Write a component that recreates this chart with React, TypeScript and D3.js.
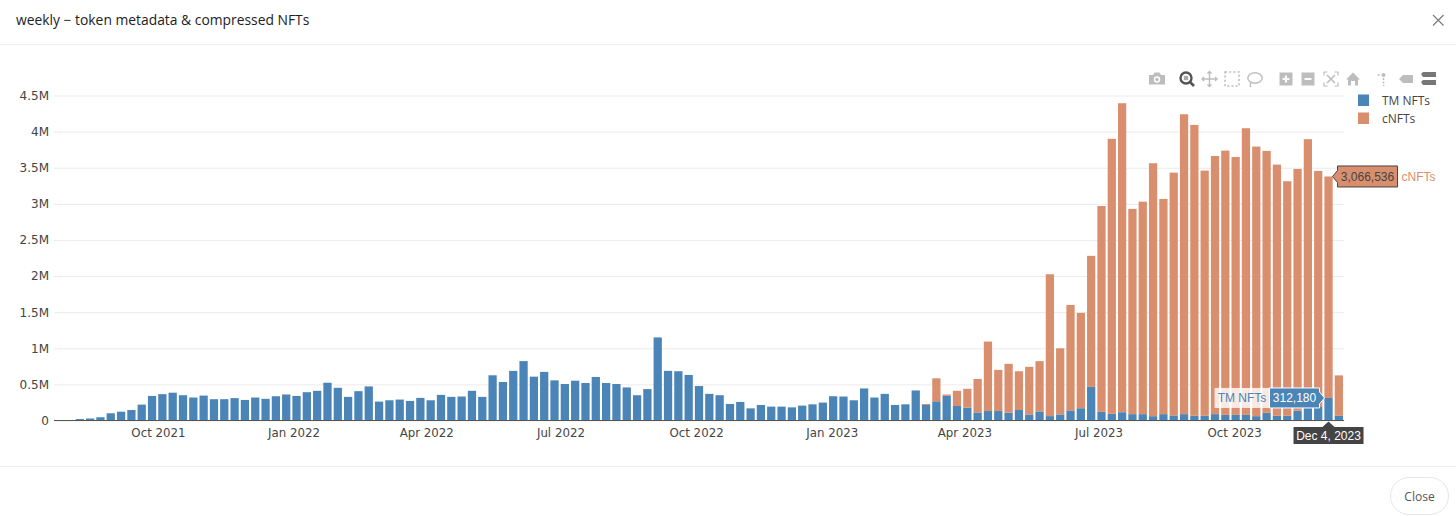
import { useEffect, useRef } from "react";
import { axisBottom, axisLeft, scaleLinear, scaleUtc, select, stack, utcFormat, utcMonday } from "d3";

const firstWeek = new Date(Date.UTC(2021, 6, 26));
const lastWeek = new Date(Date.UTC(2023, 11, 11));

const tmNfts = [
  5000, 5000, 20000, 28000, 45000, 100000, 122000, 145000, 220000, 340000,
  365000, 385000, 350000, 318000, 345000, 295000, 295000, 310000, 285000, 318000,
  300000, 336000, 360000, 340000, 392000, 411000, 523000, 453000, 327000, 406000,
  472000, 262000, 280000, 290000, 271000, 313000, 280000, 355000, 327000, 332000,
  411000, 327000, 626000, 533000, 687000, 822000, 607000, 673000, 556000, 505000,
  551000, 519000, 603000, 519000, 505000, 458000, 350000, 435000, 1150000, 687000,
  682000, 631000, 477000, 369000, 350000, 229000, 257000, 168000, 215000, 192000,
  192000, 182000, 206000, 224000, 248000, 336000, 332000, 280000, 444000, 318000,
  369000, 215000, 224000, 416000, 215000, 266000, 341000, 201000, 178000, 112000,
  131000, 131000, 107000, 145000, 84000, 126000, 61000, 84000, 140000, 170000,
  465000, 120000, 92000, 115000, 88000, 88000, 60000, 88000, 70000, 88000,
  65000, 65000, 88000, 78000, 78000, 78000, 60000, 106000, 65000, 65000,
  135000, 173000, 187000, 312180, 65000,
];

const cNfts = [
  0, 0, 0, 0, 0, 0, 0, 0, 0, 0,
  0, 0, 0, 0, 0, 0, 0, 0, 0, 0,
  0, 0, 0, 0, 0, 0, 0, 0, 0, 0,
  0, 0, 0, 0, 0, 0, 0, 0, 0, 0,
  0, 0, 0, 0, 0, 0, 0, 0, 0, 0,
  0, 0, 0, 0, 0, 0, 0, 0, 0, 0,
  0, 0, 0, 0, 0, 0, 0, 0, 0, 0,
  0, 0, 0, 0, 0, 0, 0, 0, 0, 0,
  0, 0, 0, 0, 14000, 318000, 19000, 210000, 261000, 463000,
  962000, 570000, 678000, 537000, 659000, 696000, 1964000, 916000, 1460000, 1320000,
  1815000, 2850000, 3808000, 4278000, 2842000, 2942000, 3502000, 2979000, 3362000, 4152000,
  4027000, 3395000, 3575000, 3659000, 3570000, 3969000, 3733000, 3627000, 3478000, 3248000,
  3348000, 3722000, 3268000, 3066536, 560000,
];

const seriesNames = ["TM NFTs", "cNFTs"];
const seriesColors = ["#4b84b6", "#d98f6e"];

const yTicks = [0, 500000, 1000000, 1500000, 2000000, 2500000, 3000000, 3500000, 4000000, 4500000];
const yTickLabels = ["0", "0.5M", "1M", "1.5M", "2M", "2.5M", "3M", "3.5M", "4M", "4.5M"];
const xTicks = [
  new Date(Date.UTC(2021, 9, 1)),
  new Date(Date.UTC(2022, 0, 1)),
  new Date(Date.UTC(2022, 3, 1)),
  new Date(Date.UTC(2022, 6, 1)),
  new Date(Date.UTC(2022, 9, 1)),
  new Date(Date.UTC(2023, 0, 1)),
  new Date(Date.UTC(2023, 3, 1)),
  new Date(Date.UTC(2023, 6, 1)),
  new Date(Date.UTC(2023, 9, 1)),
];

const hoverIndex = 123;
const hoverDate = "Dec 4, 2023";

const width = 1456;
const height = 516;
const plot = { left: 54, right: 1344, top: 95.5, bottom: 420.5 };
const halfWeek = 3.5 * 24 * 3600 * 1000;
const tickFont = "'DejaVu Sans', Verdana, sans-serif";
const hoverFont = "'Liberation Sans', Arial, sans-serif";
const uiFont = "'Open Sans', sans-serif";
const iconGrey = "#bdbdbd";

function Toolbar() {
  return (
    <g fill={iconGrey} stroke="none">
      {/* camera */}
      <g transform="translate(1157,79)">
        <path d="M-8,-4 h4 l1.5,-2.5 h5 l1.5,2.5 h4 v9.5 h-16 z" />
        <circle r="3.2" cy="0.5" fill="#fff" />
        <circle r="1.8" cy="0.5" />
      </g>
      {/* zoom, the active one */}
      <g transform="translate(1187,79)" stroke="#555" fill="none">
        <circle r="5.5" cx="-1" cy="-1" strokeWidth="2.4" />
        <rect x="-3.2" y="-3.2" width="4.4" height="4.4" fill="#aaa" stroke="none" />
        <path d="M3,3 L7,7" strokeWidth="2.6" />
      </g>
      {/* pan */}
      <g transform="translate(1209.5,79)" stroke={iconGrey} fill="none" strokeWidth="1.4">
        <path d="M-7.5,0 H7.5 M0,-7.5 V7.5 M-2,-5.5 L0,-7.5 L2,-5.5 M-2,5.5 L0,7.5 L2,5.5 M-5.5,-2 L-7.5,0 L-5.5,2 M5.5,-2 L7.5,0 L5.5,2" />
      </g>
      {/* box select */}
      <rect x="1225" y="72" width="14" height="14" fill="none" stroke={iconGrey} strokeWidth="1.6" strokeDasharray="2 2.2" />
      {/* lasso */}
      <g transform="translate(1255,78)" stroke={iconGrey} fill="none" strokeWidth="1.4">
        <ellipse rx="7.2" ry="5.2" />
        <path d="M-4,4 q-1.5,3 0,5" />
      </g>
      {/* zoom in and out */}
      <rect x="1279.5" y="72.5" width="13" height="13" />
      <path d="M1286,75.5 v7 M1282.5,79 h7" stroke="#fff" strokeWidth="2" />
      <rect x="1301.5" y="72.5" width="13" height="13" />
      <path d="M1304.5,79 h7" stroke="#fff" strokeWidth="2" />
      {/* autoscale */}
      <g transform="translate(1331,79)" stroke={iconGrey} fill="none" strokeWidth="1.2">
        <path d="M-7,-3.5 V-7 H-3.5 M3.5,-7 H7 V-3.5 M7,3.5 V7 H3.5 M-3.5,7 H-7 V3.5" />
        <path d="M-4,-4 L4,4 M4,-4 L-4,4" strokeWidth="1.6" />
      </g>
      {/* home */}
      <path d="M1346,79.5 L1353,72.5 L1360,79.5 H1358 V85.5 H1355 V81 H1351 V85.5 H1348 V79.5 Z" />
      {/* spikes */}
      <g>
        <circle cx="1383.5" cy="75" r="2" />
        <circle cx="1378.5" cy="75" r="1" />
        <path d="M1383.5,78 v8" stroke={iconGrey} strokeWidth="1.5" strokeDasharray="2 1.5" />
      </g>
      {/* closest hover */}
      <path d="M1399,79 L1403,75 H1413 V83 H1403 Z" />
      {/* compare hover */}
      <path d="M1421,74 L1423,72 H1436 V77 H1423 Z" fill="#777" />
      <path d="M1421,82 L1423,80 H1436 V85 H1423 Z" fill="#777" />
    </g>
  );
}

export default function App() {
  const chartRef = useRef<SVGGElement | null>(null);

  useEffect(() => {
    if (!chartRef.current) return;
    const root = select(chartRef.current);
    root.selectAll("*").remove();

    const weeks = utcMonday.range(firstWeek, new Date(lastWeek.getTime() + 1));

    const x = scaleUtc()
      .domain([new Date(firstWeek.getTime() - halfWeek), new Date(lastWeek.getTime() + halfWeek)])
      .range([plot.left, plot.right]);
    const y = scaleLinear().domain([0, 4500000]).range([plot.bottom, plot.top]);

    const barWidth = (x(weeks[1]) - x(weeks[0])) * 0.8;

    // grid + y labels
    const yAxis = root
      .append("g")
      .attr("transform", `translate(${plot.left},0)`)
      .call(
        axisLeft(y)
          .tickValues(yTicks)
          .tickSize(-(plot.right - plot.left))
          .tickPadding(5)
          .tickFormat((_, i) => yTickLabels[i])
      );
    yAxis.select(".domain").remove();
    yAxis.selectAll(".tick line").attr("stroke", "#ebebeb");
    yAxis
      .selectAll("text")
      .attr("fill", "#444")
      .attr("font-size", 12)
      .attr("font-family", tickFont);

    const rows = weeks.map((_, i) => ({ "TM NFTs": tmNfts[i], cNFTs: cNfts[i] }));
    const layers = stack<any>().keys(seriesNames)(rows);

    root
      .selectAll("g.series")
      .data(layers)
      .join("g")
      .attr("class", "series")
      .attr("fill", (_, i) => seriesColors[i])
      .selectAll("rect")
      .data((d) => d.map((v, i) => ({ v, i })))
      .join("rect")
      .attr("x", (d) => x(weeks[d.i]) - barWidth / 2)
      .attr("width", barWidth)
      .attr("y", (d) => y(d.v[1]))
      .attr("height", (d) => y(d.v[0]) - y(d.v[1]));

    // zero line sits over the bars
    root
      .append("line")
      .attr("x1", plot.left)
      .attr("x2", plot.right)
      .attr("y1", y(0))
      .attr("y2", y(0))
      .attr("stroke", "#555")
      .attr("stroke-width", 1);

    const xAxis = root
      .append("g")
      .attr("transform", `translate(0,${plot.bottom})`)
      .call(
        axisBottom(x)
          .tickValues(xTicks)
          .tickSize(0)
          .tickPadding(8)
          .tickFormat((d) => utcFormat("%b %Y")(d as Date))
      );
    xAxis.select(".domain").remove();
    xAxis
      .selectAll("text")
      .attr("fill", "#444")
      .attr("font-size", 11.8)
      .attr("font-family", tickFont);

    // hover labels for the Dec 4 bar
    const hx = x(weeks[hoverIndex]);
    const tmY = y(tmNfts[hoverIndex]);
    const cY = y(tmNfts[hoverIndex] + cNfts[hoverIndex]);
    const hover = root.append("g").attr("font-family", hoverFont).attr("font-size", 12);

    // cNFTs
    const cBox = { left: hx + 9, right: hx + 69, half: 10.5 };
    hover
      .append("path")
      .attr(
        "d",
        `M${hx + 4},${cY} L${cBox.left},${cY - 6} V${cY - cBox.half} H${cBox.right} V${cY + cBox.half} H${cBox.left} V${cY + 6} Z`
      )
      .attr("fill", seriesColors[1])
      .attr("stroke", "#444")
      .attr("stroke-width", 1);
    hover
      .append("text")
      .attr("x", hx + 39)
      .attr("y", cY + 4.5)
      .attr("text-anchor", "middle")
      .attr("fill", "#444")
      .text("3,066,536");
    hover
      .append("text")
      .attr("x", hx + 73)
      .attr("y", cY + 4.5)
      .attr("fill", seriesColors[1])
      .text("cNFTs");

    // TM NFTs, flipped to the left of the bar
    const tmBox = { left: hx - 59, right: hx - 9, half: 10 };
    hover
      .append("rect")
      .attr("x", hx - 114)
      .attr("y", tmY - tmBox.half)
      .attr("width", 55)
      .attr("height", tmBox.half * 2)
      .attr("fill", "#fff")
      .attr("fill-opacity", 0.8);
    hover
      .append("text")
      .attr("x", hx - 86.5)
      .attr("y", tmY + 4.5)
      .attr("text-anchor", "middle")
      .attr("fill", seriesColors[0])
      .text("TM NFTs");
    hover
      .append("path")
      .attr(
        "d",
        `M${hx - 4},${tmY} L${tmBox.right},${tmY - 6} V${tmY - tmBox.half} H${tmBox.left} V${tmY + tmBox.half} H${tmBox.right} V${tmY + 6} Z`
      )
      .attr("fill", seriesColors[0])
      .attr("stroke", "#fff")
      .attr("stroke-width", 1);
    hover
      .append("text")
      .attr("x", hx - 34)
      .attr("y", tmY + 4.5)
      .attr("text-anchor", "middle")
      .attr("fill", "#fff")
      .text("312,180");

    // date label under the axis
    hover
      .append("path")
      .attr(
        "d",
        `M${hx},${plot.bottom + 1} L${hx + 6},${plot.bottom + 6.5} H${hx + 35} V${plot.bottom + 23.5} H${hx - 35} V${plot.bottom + 6.5} H${hx - 6} Z`
      )
      .attr("fill", "#444");
    hover
      .append("text")
      .attr("x", hx)
      .attr("y", plot.bottom + 19.5)
      .attr("text-anchor", "middle")
      .attr("fill", "#fff")
      .text(hoverDate);

    // legend
    const legend = root
      .append("g")
      .selectAll("g")
      .data(seriesNames)
      .join("g")
      .attr("transform", (_, i) => `translate(1358,${94.5 + i * 18})`);
    legend
      .append("rect")
      .attr("width", 11)
      .attr("height", 11.5)
      .attr("fill", (_, i) => seriesColors[i]);
    legend
      .append("text")
      .attr("x", 24)
      .attr("y", 10)
      .attr("font-family", uiFont)
      .attr("font-size", 12)
      .attr("fill", "#444")
      .text((d) => d);
  }, []);

  return (
    <svg
      width={width}
      height={height}
      viewBox={`0 0 ${width} ${height}`}
      style={{ position: "absolute", left: 0, top: 0, display: "block", background: "#fff" }}
    >
      <text x={16} y={25} fontFamily={uiFont} fontSize={13.85} fill="#222">
        weekly − token metadata &amp; compressed NFTs
      </text>
      <path d="M1433,15 L1443.5,25.5 M1443.5,15 L1433,25.5" stroke="#777" strokeWidth={1.1} />
      <line x1={0} x2={width} y1={44.5} y2={44.5} stroke="#eeeeee" />
      <Toolbar />
      <g ref={chartRef} />
      <line x1={0} x2={width} y1={466.5} y2={466.5} stroke="#eeeeee" />
      <rect x={1390.5} y={477.5} width={58} height={37} rx={18.5} fill="#fff" stroke="#e6e6e6" />
      <text x={1419.5} y={501} textAnchor="middle" fontFamily={uiFont} fontSize={12} fill="#555">
        Close
      </text>
    </svg>
  );
}
